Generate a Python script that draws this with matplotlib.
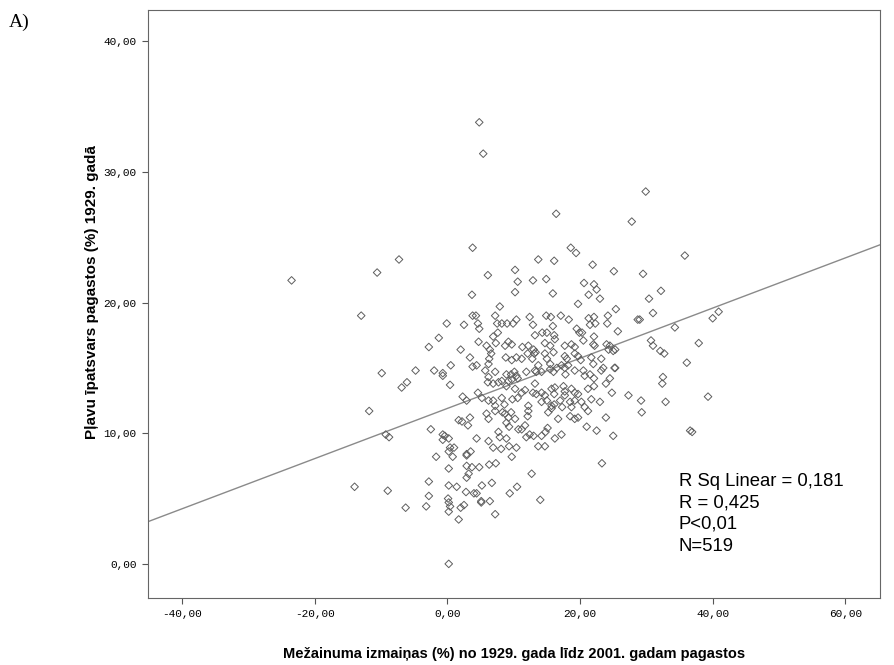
import numpy as np
import matplotlib
matplotlib.use("Agg")
from matplotlib import pyplot as plt

# mežainuma izmaiņas (%) un pļavu īpatsvars (%) pa pagastiem
forest_change = [
    4.8, 5.4, 16.4, 27.8, 29.9, -23.5,
    3.8, -7.3, -10.6, 3.7, -13.0, 3.8, -0.1, 2.5, -1.3,
    -9.9, -11.8, -6.9, -6.1, -4.8, -2.8, -2.0, -0.7, -0.7, 0.5, 2.0, 3.4, 3.8,
    0.4, 2.3, 2.9, -9.3, -8.8, 1.7, 2.2, 3.4, 3.1, -2.5, -0.7, -0.4, 0.2, -0.7,
    0.4, 1.0, 0.2, 3.5, 2.9,
    -14.0, -9.0, -6.3, -3.2, -2.8, -2.8, -1.7, 0.2, 0.2, 1.4, 0.1, 0.2, 0.4,
    0.2, 1.7, 2.0, 2.5, 2.8, 2.9, 3.2, 2.9, 3.7, 0.8, 2.9, 0.2, 4.0,
    4.8, 6.3, 7.3, 9.7, 5.2, 6.7, 4.4, 5.1, 5.1, 6.4, 7.2, 9.4, 10.5, 12.7,
    14.0, 23.3,
    30.7, 31.0, 32.1, 32.7, 37.9, 36.1, 32.5, 32.4, 29.2, 32.9, 39.3, 29.3,
    36.6, 36.9,
    35.8, 29.5, 32.2, 30.4, 31.0, 29.0, 34.3, 40.0, 40.9,
    13.7, 16.1, 18.6, 19.4, 21.9, 25.1, 6.1, 10.2, 10.6, 12.9, 14.9, 10.2,
    15.9, 20.6, 22.1, 22.5, 21.3, 23.0, 7.9, 19.7, 25.4, 4.3, 7.2, 12.4,
    14.9, 15.6, 17.1, 18.3, 21.3, 22.1, 24.2, 24.1, 21.5, 22.3, 10.4, 4.6,
    4.8, 7.5, 8.2, 9.0, 9.9, 12.9, 15.9, 19.5, 19.9, 20.3, 22.1, 25.7, 28.7,
    7.6, 6.9, 13.2, 14.3, 15.0, 16.1,
    4.7, 5.9, 7.3, 8.7, 9.2, 11.3, 12.2, 13.0, 13.3, 14.7, 15.5, 16.2, 17.7,
    18.7, 19.2, 20.5, 22.0, 22.2, 24.0, 25.3, 24.5, 6.4, 6.6, 9.7,
    4.4, 6.2, 6.3, 8.8, 9.7, 10.4, 11.2, 12.1, 13.1, 12.8, 14.7, 15.0, 16.0,
    17.7, 18.0, 19.2, 19.7, 20.1, 21.7, 22.0, 23.2, 24.3, 25.0, 25.3, 13.7,
    15.5, 17.2,
    5.7, 6.2, 7.2, 8.9, 9.6, 10.1, 10.4, 10.6, 11.9, 13.2, 13.4, 14.2, 15.5,
    16.0, 16.5, 17.7, 17.8, 18.2, 19.2, 20.5, 20.7, 21.5, 22.1, 23.2, 23.5,
    24.5, 25.2,
    4.6, 6.1, 6.9, 7.7, 8.2, 9.2, 9.7, 8.9, 10.2, 11.2, 11.7, 13.2, 12.9,
    13.4, 14.2, 14.7, 15.7, 16.2, 16.1, 17.5, 17.7, 18.7, 19.2, 19.7, 21.2,
    22.1, 23.9, 24.8, 27.3, 21.7,
    5.2, 6.2, 6.9, 7.2, 8.2, 8.6, 9.8, 10.6, 12.2, 14.2, 15.0, 15.7, 16.1,
    17.0, 17.7, 18.5, 18.7, 19.2, 20.2, 20.7, 23.0, 15.7, 17.3,
    5.9, 6.2, 7.2, 8.3, 8.7, 9.2, 8.9, 9.6, 10.2, 12.1, 12.2, 15.2, 16.7,
    18.5, 19.2, 19.7, 21.2, 23.9,
    7.7, 7.9, 8.9, 9.3, 10.7, 11.2, 11.7, 12.4, 13.0, 14.2, 14.8, 15.1, 17.2,
    21.0, 22.5, 25.0, 4.4,
    6.2, 6.9, 8.1, 9.3, 10.4, 11.9, 13.7, 14.7, 16.2,
]
meadow_share = [
    33.8, 31.4, 26.8, 26.2, 28.5, 21.7,
    24.2, 23.3, 22.3, 20.6, 19.0, 19.0, 18.4, 18.3, 17.3,
    14.6, 11.7, 13.5, 13.9, 14.8, 16.6, 14.8, 14.6, 14.4, 15.2, 16.4, 15.8, 15.1,
    13.7, 12.8, 12.5, 9.9, 9.7, 11.0, 10.9, 11.2, 10.6, 10.3, 9.9, 9.8, 9.6, 9.5,
    8.9, 8.9, 8.6, 8.6, 8.4,
    5.9, 5.6, 4.3, 4.4, 6.3, 5.2, 8.2, 7.3, 6.0, 5.9, 5.0, 4.7, 4.4,
    4.0, 3.4, 4.3, 4.5, 5.5, 6.6, 6.9, 7.5, 7.4, 8.2, 8.3, 0.0, 5.4,
    7.4, 7.6, 7.7, 8.2, 6.0, 6.2, 5.4, 4.8, 4.7, 4.8, 3.8, 5.4, 5.9, 6.9,
    4.9, 7.7,
    17.1, 16.7, 16.3, 16.1, 16.9, 15.4, 14.3, 13.8, 12.5, 12.4, 12.8, 11.6,
    10.2, 10.1,
    23.6, 22.2, 20.9, 20.3, 19.2, 18.7, 18.1, 18.8, 19.3,
    23.3, 23.2, 24.2, 23.8, 22.9, 22.4, 22.1, 22.5, 21.6, 21.7, 21.8, 20.8,
    20.7, 21.5, 21.4, 21.0, 20.6, 20.3, 19.7, 19.9, 19.5, 19.0, 19.0, 18.9,
    19.0, 18.9, 19.0, 18.7, 18.8, 18.9, 19.0, 18.4, 18.3, 18.4, 18.7, 18.4,
    18.0, 18.4, 18.4, 18.4, 18.4, 18.3, 18.2, 18.0, 17.7, 17.7, 17.4, 17.8, 18.7,
    17.7, 17.4, 17.5, 17.7, 17.7, 17.5,
    17.0, 16.7, 16.9, 16.7, 17.0, 16.6, 16.7, 16.4, 16.2, 16.9, 16.7, 17.2, 16.7,
    16.8, 16.6, 17.1, 16.8, 16.7, 16.8, 16.4, 16.7, 16.4, 16.1, 16.8,
    15.2, 15.3, 15.7, 15.8, 15.6, 15.8, 15.7, 16.1, 16.1, 15.7, 16.1, 15.7, 16.2,
    15.9, 15.7, 16.1, 15.9, 15.6, 15.8, 15.3, 15.7, 16.4, 16.3, 15.0, 15.2,
    15.3, 15.2,
    14.8, 14.3, 14.7, 14.5, 14.5, 14.7, 14.4, 14.2, 14.7, 14.8, 14.7, 14.7, 14.9,
    14.7, 15.0, 15.0, 14.5, 15.2, 14.8, 14.8, 14.4, 14.5, 14.2, 14.8, 15.0,
    14.2, 15.0,
    13.1, 13.9, 13.8, 13.9, 14.0, 14.0, 14.1, 13.6, 13.4, 13.1, 13.3, 13.8, 13.1,
    13.0, 13.1, 12.9, 13.4, 13.5, 13.0, 13.6, 13.2, 13.4, 13.1, 13.0, 13.4,
    13.6, 13.8, 13.1, 12.9, 12.6,
    12.7, 12.5, 12.5, 12.1, 12.7, 12.2, 12.6, 12.7, 12.1, 12.4, 12.5, 12.1, 12.2,
    12.5, 12.9, 12.4, 12.0, 12.5, 12.4, 12.0, 12.4, 11.9, 12.0,
    11.5, 11.1, 11.7, 11.6, 11.5, 11.2, 10.8, 11.6, 11.1, 11.3, 11.7, 11.6, 11.1,
    11.3, 11.1, 11.2, 11.7, 11.2,
    10.1, 9.7, 9.6, 10.5, 10.3, 10.3, 10.6, 9.9, 9.8, 9.8, 10.1, 10.4, 9.9,
    10.5, 10.2, 9.8, 9.6,
    9.4, 8.9, 8.8, 9.0, 8.9, 9.7, 9.0, 9.0, 9.6,
]

# lineārās regresijas taisne
line_intercept = 11.9
line_slope = 0.192

stats_lines = ["R Sq Linear = 0,181", "R = 0,425", "P<0,01", "N=519"]

x_ticks = [-40, -20, 0, 20, 40, 60]
y_ticks = [0, 10, 20, 30, 40]

fig = plt.figure(figsize=(8.95, 6.65), dpi=100)
ax = fig.add_axes([0.165, 0.101, 0.818, 0.884])

ax.scatter(forest_change, meadow_share, marker="D", s=15, facecolors="none",
           edgecolors="#5e5e5e", linewidths=0.7, zorder=3)

xlim = (-45.2, 65.2)
lx = np.array(xlim)
ax.plot(lx, line_intercept + line_slope * lx, color="#8a8a8a", lw=1.0, zorder=2)

ax.set_xlim(*xlim)
ax.set_ylim(-2.6, 42.4)

ax.set_xticks(x_ticks)
ax.set_yticks(y_ticks)
ax.set_xticklabels(["{:.2f}".format(v).replace(".", ",") for v in x_ticks],
                   family="Liberation Mono", fontsize=8)
ax.set_yticklabels(["{:.2f}".format(v).replace(".", ",") for v in y_ticks],
                   family="Liberation Mono", fontsize=8)
ax.tick_params(direction="out", length=4, width=0.8, color="#555555", pad=4)
for sp in ax.spines.values():
    sp.set_color("#666666")
    sp.set_linewidth(0.8)

ax.set_xlabel("Mežainuma izmaiņas (%) no 1929. gada līdz 2001. gadam pagastos",
              family="Liberation Sans", fontsize=10.5, fontweight="bold", labelpad=20)
ax.set_ylabel("Pļavu īpatsvars pagastos (%) 1929. gadā",
              family="Liberation Sans", fontsize=11, fontweight="bold")
ax.yaxis.set_label_coords(-0.066, 0.52)

for i, s in enumerate(stats_lines):
    fig.text(679 / 895, 1 - (481 + 21.7 * i) / 665, s, family="Liberation Sans",
             fontsize=13.3, va="center", ha="left")

fig.text(9 / 895, 1 - 22 / 665, "A)", family="Liberation Serif", fontsize=14,
         va="center", ha="left")

fig.savefig("out.png", dpi=100)
